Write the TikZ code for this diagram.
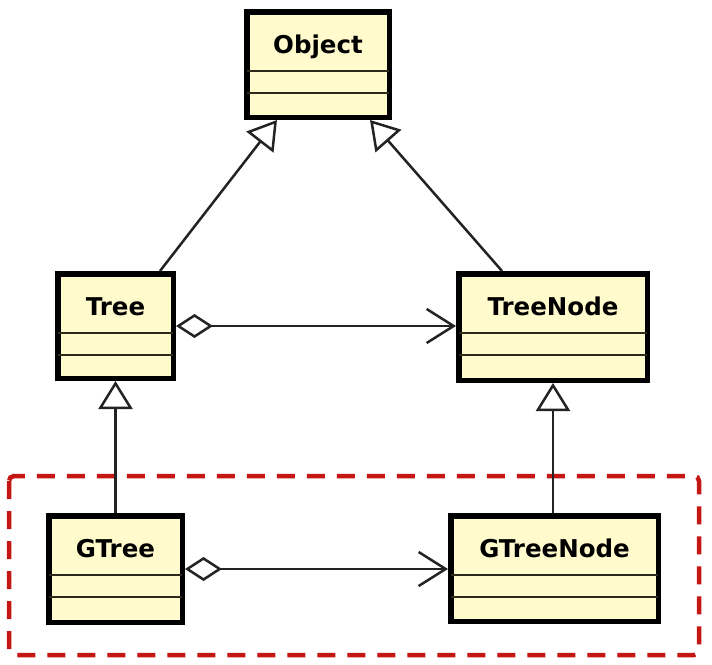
\documentclass[tikz,border=0pt]{standalone}
\usepackage{fontspec}
\setmainfont{DejaVu Sans}
\usetikzlibrary{arrows.meta,calc}
\definecolor{boxfill}{RGB}{255,251,204}
\definecolor{sepline}{RGB}{45,42,28}
\definecolor{conn}{RGB}{35,35,35}
\definecolor{dashred}{RGB}{196,22,18}
\tikzset{
  classbox/.style={draw=black, line width=5.5pt, fill=boxfill, inner sep=0pt},
  classlabel/.style={anchor=base, inner sep=0pt, font=\fontsize{24.5}{29}\selectfont\bfseries},
  sepstyle/.style={draw=sepline, line width=2.5pt},
  conline/.style={draw=conn, line width=2.5pt},
  genarrow/.style={conline, -{Triangle[open, length=28pt, width=34pt, fill=white]}},
  aggarrow/.style={conline, {Diamond[open, length=37pt, width=24pt, fill=white]}-{Straight Barb[length=27pt, width=34pt]}},
  groupframe/.style={draw=dashred, line width=4.5pt, dash pattern=on 18pt off 12pt, rounded corners=5pt}
}
\newcommand{\umlclass}[6]{% name, x1, y1, x2, y2, label
  \node[classbox, minimum width={#4-#2-5.5pt}, minimum height={#5-#3-5.5pt}] (#1) at ({(#2+#4)/2},{(#3+#5)/2}) {};
  \node[classlabel] (#1-label) at ({(#2+#4)/2},{#3+44}) {#6};
  \draw[sepstyle] ({#2+3},{#3+62}) -- ({#4-3},{#3+62});
  \draw[sepstyle] ({#2+3},{#3+84}) -- ({#4-3},{#3+84});
}
\begin{document}
\begin{tikzpicture}[x=1pt,y=-1pt]
\useasboundingbox (0,0) rectangle (712,664);
\fill[white] (0,0) rectangle (712,664);
% group frame
\draw[groupframe] (9,476) rectangle (699,655);
% classes
\umlclass{obj}{244}{9}{392}{120}{Object}
\umlclass{tree}{55}{271}{176}{381}{Tree}
\umlclass{tn}{456}{271}{650}{383}{TreeNode}
\umlclass{gtree}{46}{513}{185}{625}{GTree}
\umlclass{gtn}{448}{513}{661}{624}{GTreeNode}
% generalizations
\draw[genarrow] ([xshift=44.5pt]tree.north) -- ([xshift=-41pt]obj.south);
\draw[genarrow] ([xshift=-51pt]tn.north) -- ([xshift=52pt]obj.south);
\draw[genarrow] (gtree.north) -- (tree.south);
\draw[genarrow] (tn.south |- gtn.north) -- (tn.south);
% aggregations
\draw[aggarrow] (tree.east) -- (tn.west |- tree.east);
\draw[aggarrow] (gtree.east) -- (gtn.west |- gtree.east);
\end{tikzpicture}
\end{document}
